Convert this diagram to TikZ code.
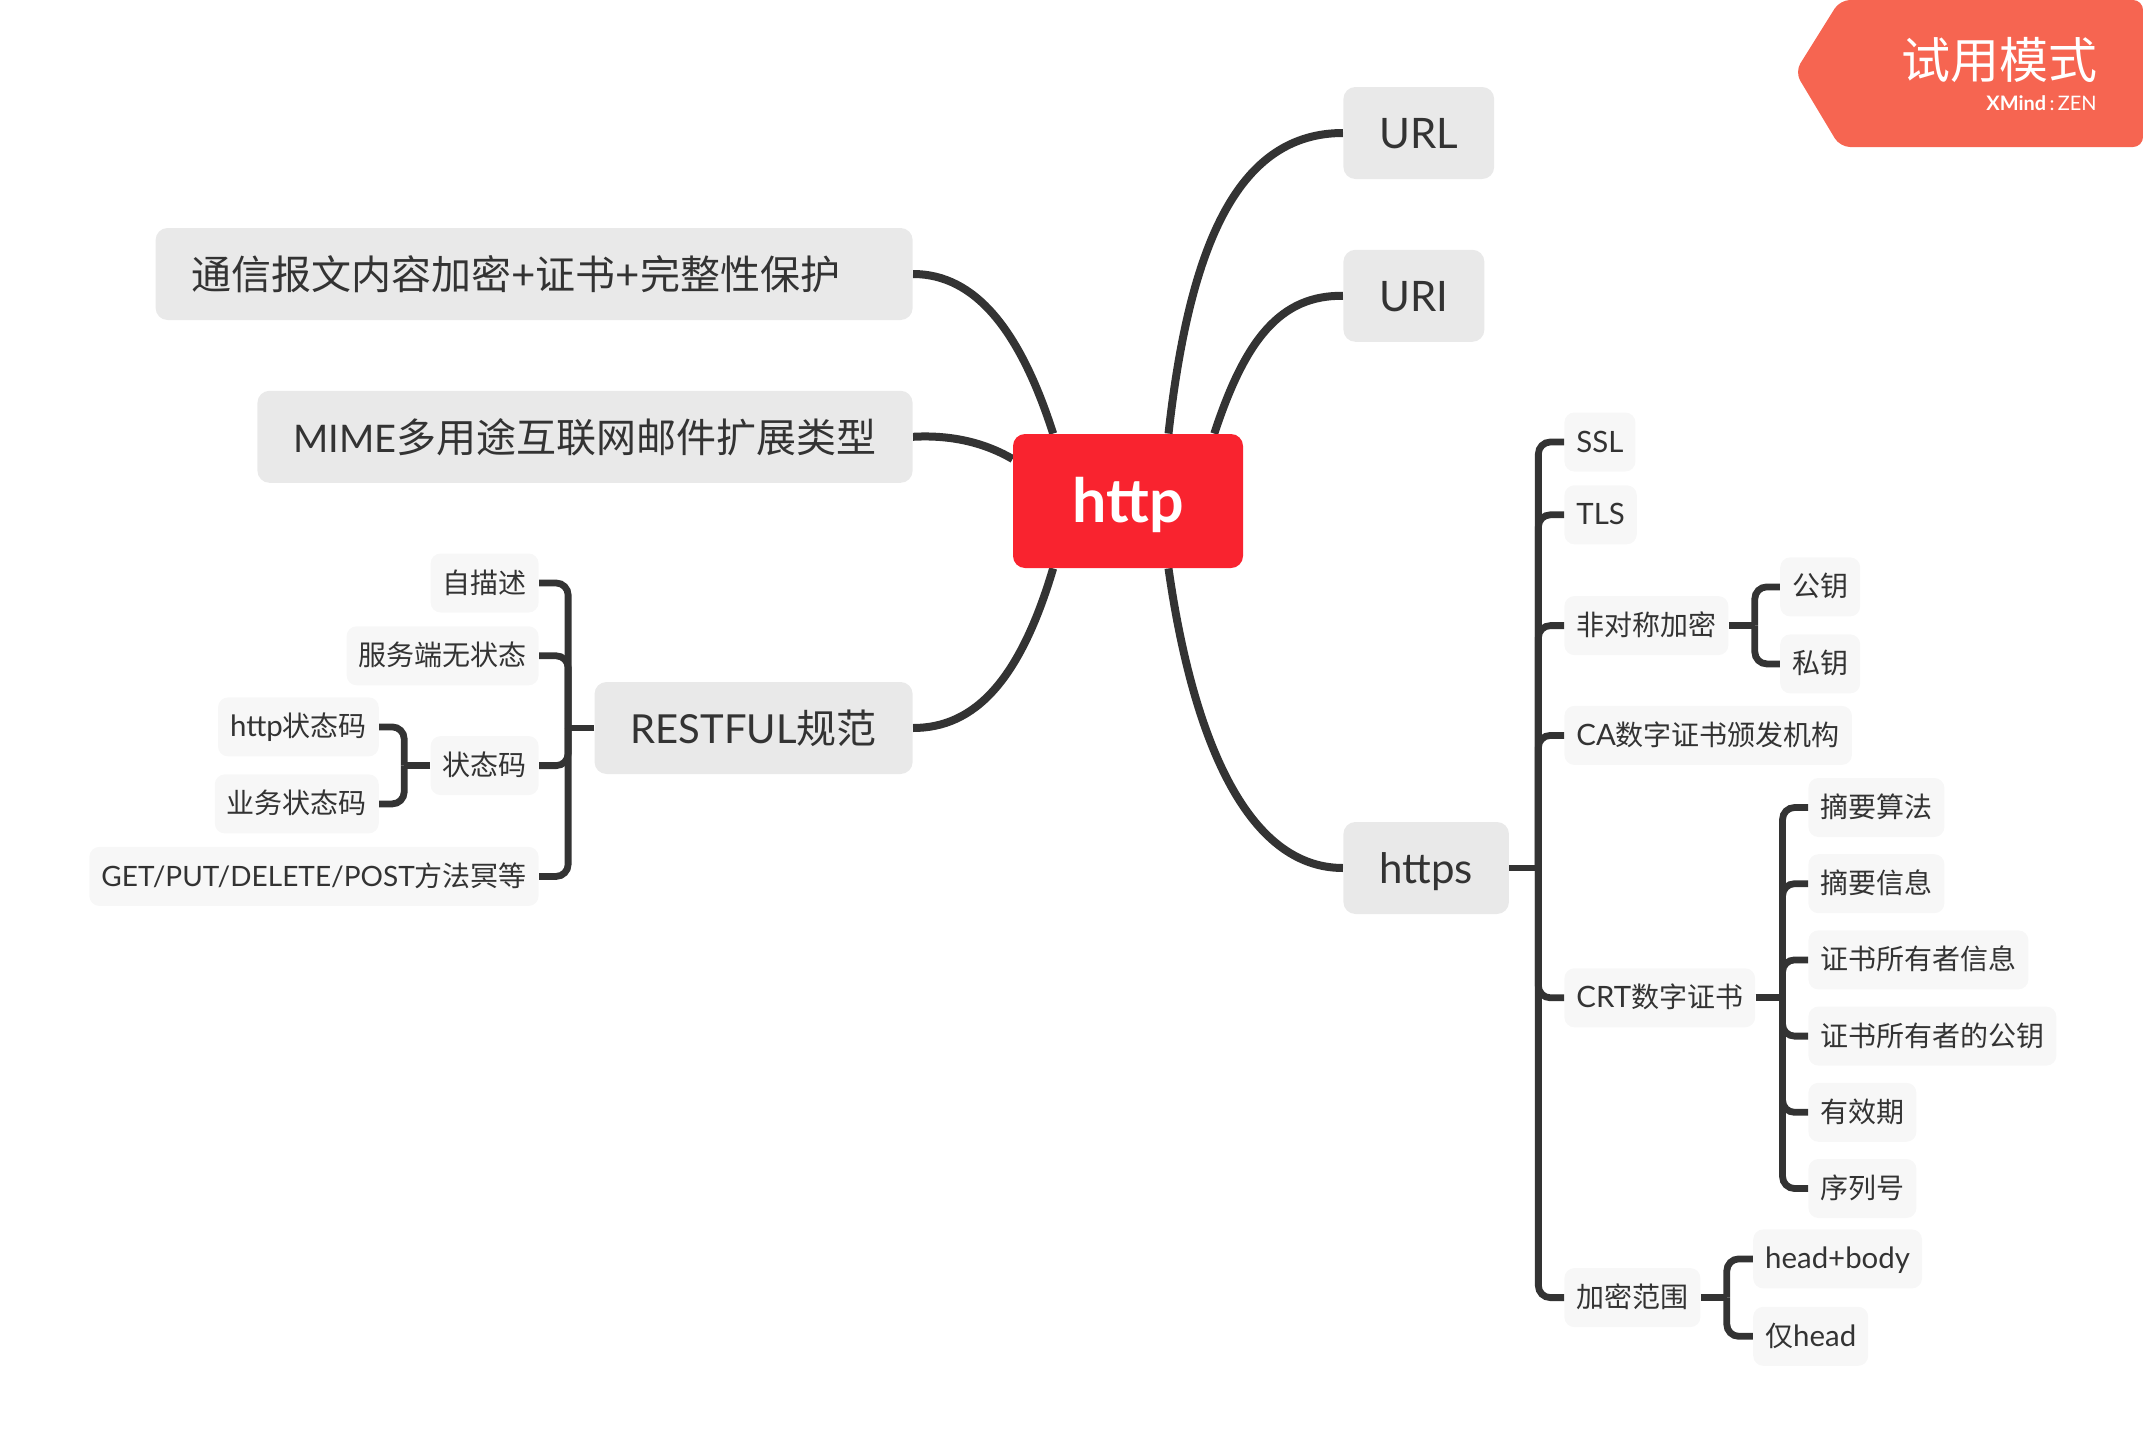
\documentclass[tikz,border=0pt]{standalone}
\usepackage{fontspec}
\setmainfont[Scale=1.05]{Lato}
\newfontfamily\capsfont[Scale=1.0]{Lato}
\newfontfamily\zhfont{Noto Sans CJK SC}
\newcommand{\zh}[1]{{\zhfont #1}}
\newcommand{\caps}[1]{{\capsfont #1}}
\usetikzlibrary{positioning, backgrounds, calc}
\definecolor{inkgray}{HTML}{333333}
\definecolor{rootred}{HTML}{F9232F}
\definecolor{topicgray}{HTML}{E9E9E9}
\definecolor{subgray}{HTML}{F7F7F7}
\definecolor{badgered}{HTML}{F66551}

\begin{document}
\begin{tikzpicture}[
    x=0.5pt, y=-0.5pt,
    root/.style     = {fill=rootred, text=white, rounded corners=6pt, minimum width=115pt, minimum height=67pt, text height=21pt, text depth=0pt, font=\fontsize{29}{31}\selectfont\bfseries},
    topic/.style    = {fill=topicgray, text=inkgray, rounded corners=6pt, minimum height=46pt, inner xsep=18pt, inner ysep=0pt, text height=15.5pt, text depth=0pt, font=\fontsize{20}{24}\selectfont},
    subtopic/.style = {fill=subgray, text=inkgray, rounded corners=5pt, minimum height=29.5pt, inner xsep=6pt, inner ysep=0pt, text height=10pt, text depth=0pt, font=\fontsize{14}{17}\selectfont},
    mainline/.style = {draw=inkgray, line width=4pt},
    busline/.style  = {draw=inkgray, line width=3.4pt, rounded corners=6pt}
]
\useasboundingbox (0,0) rectangle (2143,1451);

% centre and first level
\node[root] (http) at (1128,501) {http};
\node[topic, anchor=west] (URL) at (1343,133) {URL};
\node[topic, below right=35pt and 0pt of URL.south west] (URI) {URI};
\node[topic, anchor=west] (https) at (1343,868) {https};
\node[topic, anchor=east, text width=342.5pt, align=left] (secure) at (913,274) {\zh{通信报文内容加密}+\zh{证书}+\zh{完整性保护}};
\node[topic, below left=35pt and 0pt of secure.south east] (mime) {{\fontsize{19}{24}\selectfont\capsfont MIME}\zh{多用途互联网邮件扩展类型}};
\node[topic, anchor=east] (rest) at (913,728) {\caps{RESTFUL}\zh{规范}};

% restful side
\node[subtopic, anchor=east] (selfdesc) at (539,583) {\zh{自描述}};
\node[subtopic, below left=6.5pt and 0pt of selfdesc.south east] (stateless) {\zh{服务端无状态}};
\node[subtopic, below left=25pt and 0pt of stateless.south east] (status) {\zh{状态码}};
\node[subtopic, below left=25.5pt and 0pt of status.south east] (verbs) {\caps{GET/PUT/DELETE/POST}\zh{方法冥等}};
\node[subtopic, above left=4.4pt and 25.5pt of status.west] (httpcode) {http\zh{状态码}};
\node[subtopic, below left=4.2pt and 25.5pt of status.west] (bizcode) {\zh{业务状态码}};
\coordinate[left=13pt of rest] (restbus);
\coordinate[left=13pt of status] (statusbus);

% https side
\node[subtopic, anchor=west] (SSL) at (1564,442) {SSL};
\node[subtopic, below right=6.5pt and 0pt of SSL.south west] (TLS) {TLS};
\node[subtopic, below right=25.5pt and 0pt of TLS.south west] (asym) {\zh{非对称加密}};
\node[subtopic, below right=25pt and 0pt of asym.south west] (CA) {CA\zh{数字证书颁发机构}};
\node[subtopic, below right=101.3pt and 0pt of CA.south west] (CRT) {CRT\zh{数字证书}};
\node[subtopic, below right=120pt and 0pt of CRT.south west] (scope) {\zh{加密范围}};
\node[subtopic, above right=4.4pt and 25.5pt of asym.east] (pubkey) {\zh{公钥}};
\node[subtopic, below right=4.2pt and 25.5pt of asym.east] (prikey) {\zh{私钥}};
\node[subtopic, anchor=west] (digalg) at (1808,807.5) {\zh{摘要算法}};
\node[subtopic, below right=8.2pt and 0pt of digalg.south west] (digest) {\zh{摘要信息}};
\node[subtopic, below right=8.2pt and 0pt of digest.south west] (owner) {\zh{证书所有者信息}};
\node[subtopic, below right=8.2pt and 0pt of owner.south west] (ownerkey) {\zh{证书所有者的公钥}};
\node[subtopic, below right=8.2pt and 0pt of ownerkey.south west] (validity) {\zh{有效期}};
\node[subtopic, below right=8.2pt and 0pt of validity.south west] (serial) {\zh{序列号}};
\node[subtopic, above right=4.4pt and 26pt of scope.east] (headbody) {head+body};
\node[subtopic, below right=4.4pt and 26pt of scope.east] (headonly) {\zh{仅}head};
\coordinate[right=14.5pt of https] (httpsbus);
\coordinate[right=13pt of asym] (asymbus);
\coordinate[right=13.5pt of CRT] (crtbus);
\coordinate[right=13pt of scope] (scopebus);

% badge
\node[font=\fontsize{24.5}{26}\selectfont\zhfont, text=white, anchor=east, inner sep=0pt] (trial) at (2098,60) {试用模式};
\node[font=\fontsize{9.5}{11}\selectfont, text=white, anchor=east, inner sep=0pt] (brand) at (2097,103) {\textbf{XMind}\,:\,ZEN};

\begin{scope}[on background layer]
\fill[badgered, rounded corners=5pt] (1840,0) -- (2143,0) -- (2143,147) -- (1840,147) -- (1795,72) -- cycle;
\draw[mainline] (http.59) .. controls (1190,240) and (1240,133) .. (URL.west);
\draw[mainline] (http.38) .. controls (1245,340) and (1280,295) .. (URI.west);
\draw[mainline] (http.-59) .. controls (1190,720) and (1240,868) .. (https.west);
\draw[mainline] (http.138) .. controls (1020,330) and (975,274) .. (secure.east);
\draw[mainline] (http.160) .. controls (980,440) and (945,435) .. (mime.east);
\draw[mainline] (http.222) .. controls (1020,680) and (975,728) .. (rest.east);
\end{scope}

\draw[busline] (https.east) -- (httpsbus);
\foreach \n in {SSL, TLS, asym, CA, CRT, scope}
  \draw[busline] (httpsbus) |- (\n.west);
\draw[busline] (asym.east) -- (asymbus);
\foreach \n in {pubkey, prikey}
  \draw[busline] (asymbus) |- (\n.west);
\draw[busline] (CRT.east) -- (crtbus);
\foreach \n in {digalg, digest, owner, ownerkey, validity, serial}
  \draw[busline] (crtbus) |- (\n.west);
\draw[busline] (scope.east) -- (scopebus);
\foreach \n in {headbody, headonly}
  \draw[busline] (scopebus) |- (\n.west);
\draw[busline] (rest.west) -- (restbus);
\foreach \n in {selfdesc, stateless, status, verbs}
  \draw[busline] (restbus) |- (\n.east);
\draw[busline] (status.west) -- (statusbus);
\foreach \n in {httpcode, bizcode}
  \draw[busline] (statusbus) |- (\n.east);
\end{tikzpicture}
\end{document}
